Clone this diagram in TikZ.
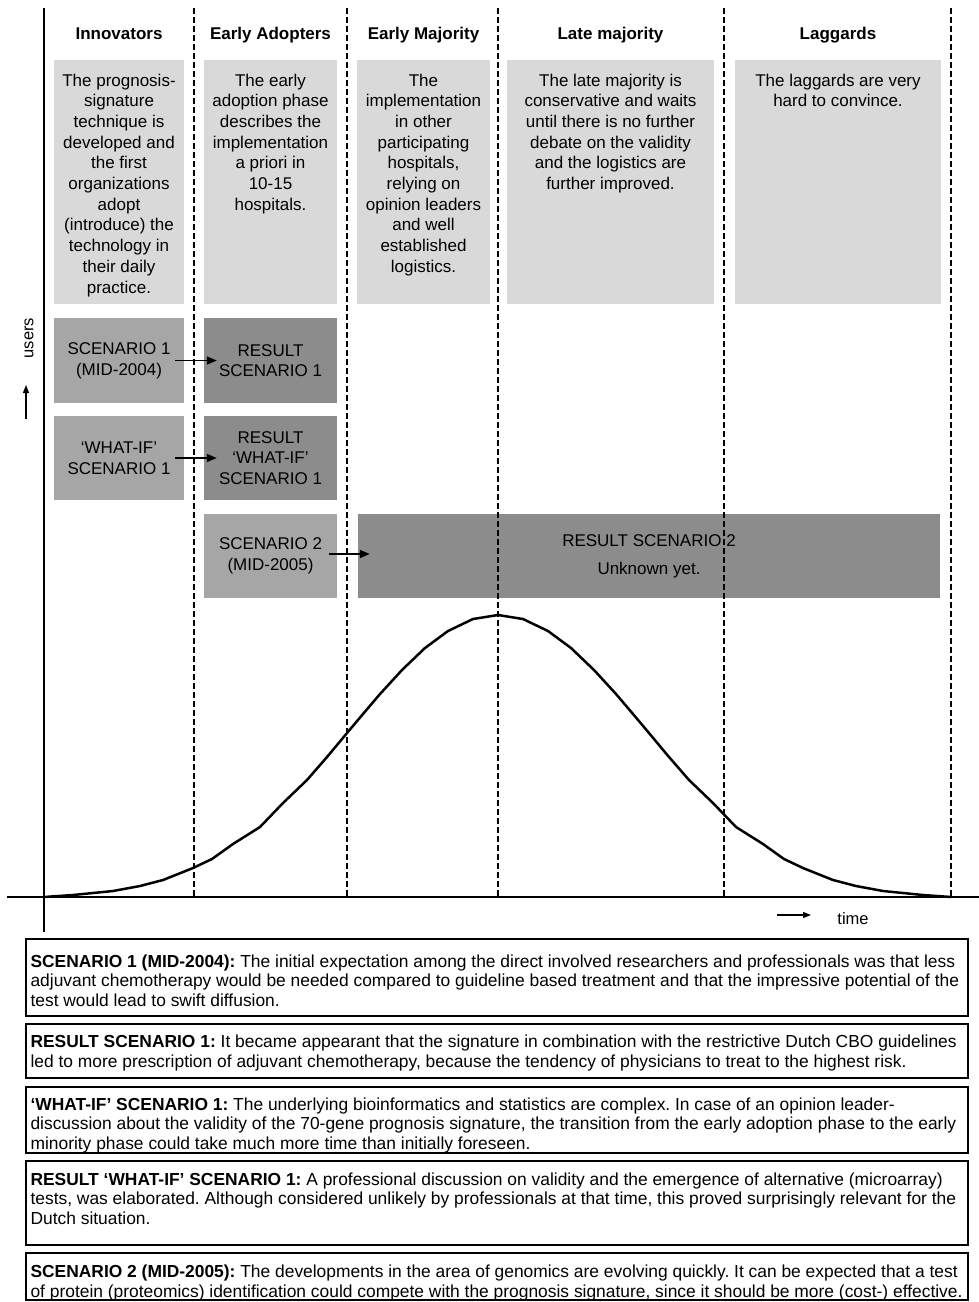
\documentclass[tikz,border=0pt]{standalone}
\usepackage{fontspec}
\setmainfont{Liberation Sans}
\usetikzlibrary{arrows.meta}

\definecolor{descgray}{HTML}{D9D9D9}
\definecolor{scengray}{HTML}{A6A6A6}
\definecolor{resgray}{HTML}{8C8C8C}

% fixed-height strut on the first line so text can be placed by its baseline
\newcommand\lnA{\rule{0pt}{13pt}}
\frenchspacing

\begin{document}
\begin{tikzpicture}[x=1pt,y=-1pt,
  phasehead/.style={anchor=base,inner sep=0pt,font=\fontsize{17}{20}\selectfont\bfseries},
  descbox/.style={fill=descgray,inner sep=0pt,minimum height=244pt},
  desctext/.style={anchor=north,align=center,inner sep=0pt,font=\fontsize{17}{20.7}\selectfont},
  scenbox/.style={fill=scengray,inner sep=0pt,align=center,font=\fontsize{17}{20.7}\selectfont},
  resbox/.style={fill=resgray,inner sep=0pt,align=center,font=\fontsize{17}{20.7}\selectfont},
  notebox/.style={draw=black,line width=1.3pt,inner sep=0pt,minimum width=942pt},
  notetext/.style={anchor=north west,align=left,inner sep=0pt,font=\fontsize{17.4}{19.8}\selectfont},
  axislabel/.style={inner sep=0pt,font=\fontsize{16.5}{19}\selectfont},
  phaseline/.style={line width=2pt,dash pattern=on 6pt off 3pt},
  axisline/.style={line width=1.8pt},
  bell/.style={line width=2.5pt,line join=round},
  flow/.style={line width=1.5pt,-{Triangle[length=10pt,width=8pt]}},
]
\useasboundingbox (0,0) rectangle (979,1302);

% ---- phase descriptions ----
\node[descbox,minimum width=130pt] (dInn) at (119,182) {};
\node[descbox,minimum width=133pt] (dEA)  at (270.5,182) {};
\node[descbox,minimum width=133pt] (dEM)  at (423.5,182) {};
\node[descbox,minimum width=207pt] (dLM)  at (610.5,182) {};
\node[descbox,minimum width=206pt] (dLag) at (838,182) {};

% ---- scenario boxes ----
\node[scenbox,minimum width=130pt,minimum height=85pt] (s1)  at (119,360.5) {SCENARIO 1\\(MID-2004)};
\node[resbox, minimum width=133pt,minimum height=85pt] (r1)  at (270.5,360.5) {RESULT\\SCENARIO 1};
\node[scenbox,minimum width=130pt,minimum height=84pt] (w1)  at (119,458) {‘WHAT-IF’\\SCENARIO 1};
\node[resbox, minimum width=133pt,minimum height=84pt] (rw1) at (270.5,458) {RESULT\\‘WHAT-IF’\\SCENARIO 1};
\node[scenbox,minimum width=133pt,minimum height=84pt] (s2)  at (270.5,556) {SCENARIO 2\\(MID-2005)};
\node[resbox, minimum width=582pt,minimum height=84pt] (r2)  at (649,556) {RESULT SCENARIO 2\\[7.3pt]Unknown yet.};

% ---- phase borders ----
\foreach \px in {194,347,498,724,951}
  \draw[phaseline] (\px,8) -- (\px,897);

% ---- axes ----
\draw[axisline] (44,8) -- (44,932);
\draw[axisline] (7,897) -- (979,897);

% ---- adoption curve ----
\draw[bell] (44,897) -- (73,895) -- (113,891) -- (140,886) -- (163,880) -- (193,868)
  -- (212,859) -- (233,844) -- (260,827) -- (283,803) -- (307,780) -- (327,757)
  -- (347,733) -- (363,714) -- (380,694) -- (402,670) -- (425,648) -- (448,631)
  -- (473,619) -- (498,615) -- (523,619) -- (548,631) -- (571,648) -- (594,670)
  -- (616,694) -- (633,714) -- (649,733) -- (669,757) -- (689,780) -- (713,803)
  -- (736,827) -- (763,844) -- (784,859) -- (803,868) -- (833,880) -- (856,886)
  -- (883,891) -- (923,895) -- (951,897);

% ---- scenario flows ----
\draw[flow] ([xshift=-9pt]s1.east) -- ([xshift=13pt]r1.west);
\draw[flow] ([xshift=-9pt]w1.east) -- ([xshift=13pt]rw1.west);
\draw[flow] ([xshift=-8pt,yshift=2pt]s2.east) -- ([xshift=12pt,yshift=2pt]r2.west);

% ---- phase headings ----
\node[phasehead] (hInn) at (119,39) {Innovators};
\node[phasehead] (hEA)  at (270.5,39) {Early Adopters};
\node[phasehead] (hEM)  at (423.5,39) {Early Majority};
\node[phasehead] (hLM)  at (610.5,39) {Late majority};
\node[phasehead] (hLag) at (838,39) {Laggards};

% ---- phase description texts ----
\node[desctext] (tInn) at ([yshift=-13pt]dInn.north) {\lnA The prognosis-\\signature\\technique is\\developed and\\the first\\organizations\\adopt\\(introduce) the\\technology in\\their daily\\practice.};
\node[desctext] (tEA) at ([yshift=-13pt]dEA.north) {\lnA The early\\adoption phase\\describes the\\implementation\\a priori in\\10-15\\hospitals.};
\node[desctext] (tEM) at ([yshift=-13pt]dEM.north) {\lnA The\\implementation\\in other\\participating\\hospitals,\\relying on\\opinion leaders\\and well\\established\\logistics.};
\node[desctext] (tLM) at ([yshift=-13pt]dLM.north) {\lnA The late majority is\\conservative and waits\\until there is no further\\debate on the validity\\and the logistics are\\further improved.};
\node[desctext] (tLag) at ([yshift=-13pt]dLag.north) {\lnA The laggards are very\\hard to convince.};

% ---- axis labels ----
\node[axislabel,rotate=90] (users) at (29,338) {users};
\coordinate (uFrom) at (26,419);
\coordinate (uTo) at (26,385);
\draw[flow,line width=1.2pt,-{Triangle[length=8pt,width=6pt]}] (uFrom) -- (uTo);
\node[axislabel,anchor=base] (time) at (853,924) {time};
\coordinate (tFrom) at (777,915);
\coordinate (tTo) at (811,915);
\draw[flow,line width=1.2pt,-{Triangle[length=8pt,width=6pt]}] (tFrom) -- (tTo);

% ---- scenario notes ----
\node[notebox,minimum height=77pt] (n1) at (497,977.5) {};
\node[notebox,minimum height=54pt] (n2) at (497,1051) {};
\node[notebox,minimum height=66pt] (n3) at (497,1120) {};
\node[notebox,minimum height=84pt] (n4) at (497,1203) {};
\node[notebox,minimum height=47pt] (n5) at (497,1276.5) {};

\node[notetext] (m1) at ([xshift=5pt,yshift=-15.5pt]n1.north west) {\lnA\textbf{SCENARIO 1 (MID-2004):} The initial expectation among the direct involved researchers and professionals was that less\\adjuvant chemotherapy would be needed compared to guideline based treatment and that the impressive potential of the\\test would lead to swift diffusion.};
\node[notetext] (m2) at ([xshift=5pt,yshift=-11pt]n2.north west) {\lnA\textbf{RESULT SCENARIO 1:} It became appearant that the signature in combination with the restrictive Dutch CBO guidelines\\led to more prescription of adjuvant chemotherapy, because the tendency of physicians to treat to the highest risk.};
\node[notetext] (m3) at ([xshift=5pt,yshift=-10.5pt]n3.north west) {\lnA\textbf{‘WHAT-IF’ SCENARIO 1:} The underlying bioinformatics and statistics are complex. In case of an opinion leader-\\discussion about the validity of the 70-gene prognosis signature, the transition from the early adoption phase to the early\\minority phase could take much more time than initially foreseen.};
\node[notetext] (m4) at ([xshift=5pt,yshift=-11.5pt]n4.north west) {\lnA\textbf{RESULT ‘WHAT-IF’ SCENARIO 1:} A professional discussion on validity and the emergence of alternative (microarray)\\tests, was elaborated. Although considered unlikely by professionals at that time, this proved surprisingly relevant for the\\Dutch situation.};
\node[notetext] (m5) at ([xshift=5pt,yshift=-12pt]n5.north west) {\lnA\textbf{SCENARIO 2 (MID-2005):} The developments in the area of genomics are evolving quickly. It can be expected that a test\\of protein (proteomics) identification could compete with the prognosis signature, since it should be more (cost-) effective.};

\end{tikzpicture}
\end{document}
